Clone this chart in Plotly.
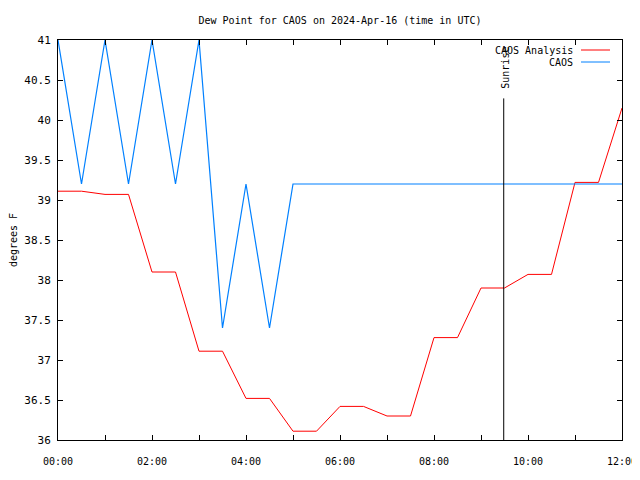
import plotly.graph_objects as go

# ---- data ----
times = ["00:00", "00:30", "01:00", "01:30", "02:00", "02:30", "03:00", "03:30",
         "04:00", "04:30", "05:00", "05:30", "06:00", "06:30", "07:00", "07:30",
         "08:00", "08:30", "09:00", "09:30", "10:00", "10:30", "11:00", "11:30", "12:00"]
analysis = [39.11, 39.11, 39.07, 39.07, 38.10, 38.10, 37.11, 37.11,
            36.52, 36.52, 36.11, 36.11, 36.42, 36.42, 36.30, 36.30,
            37.28, 37.28, 37.90, 37.90, 38.07, 38.07, 39.22, 39.22, 40.15]
obs = [41.0, 39.2, 41.0, 39.2, 41.0, 39.2, 41.0, 37.4,
       39.2, 37.4, 39.2, 39.2, 39.2, 39.2, 39.2, 39.2,
       39.2, 39.2, 39.2, 39.2, 39.2, 39.2, 39.2, 39.2, 39.2]
series_names = ["CAOS Analysis", "CAOS"]
series_colors = ["#ff0000", "#0080ff"]
sunrise_time = "09:29"
date = "2024-04-16"

xs = [f"{date} {t}" for t in times]
FONT = "DejaVu Sans Mono"

# page is offset by the browser's 8px body margin
W, H = 632, 464
L, T, R, B = 50, 32, 18, 32
PW, PH = W - L - R, H - T - B

fig = go.Figure()
fig.add_trace(go.Scatter(x=xs, y=analysis, mode="lines", name=series_names[0],
                         line=dict(color=series_colors[0], width=1)))
fig.add_trace(go.Scatter(x=xs, y=obs, mode="lines", name=series_names[1],
                         line=dict(color=series_colors[1], width=1.2)))

# sunrise line and label
fig.add_shape(type="line", xref="x", yref="y",
              x0=f"{date} {sunrise_time}", x1=f"{date} {sunrise_time}",
              y0=36, y1=40.27, line=dict(color="black", width=1))
fig.add_annotation(x=f"{date} {sunrise_time}", y=40.35, xref="x", yref="y",
                   text="Sunrise", textangle=-90, showarrow=False,
                   xanchor="center", yanchor="bottom", xshift=1, yshift=1,
                   font=dict(family=FONT, size=10, color="black"))

# manual legend (gnuplot style: text right, sample line after it)
for i, (name, col) in enumerate(zip(series_names, series_colors)):
    ypx = 10 + 12 * i   # px below plot top
    yp = 1 - ypx / PH
    fig.add_annotation(x=(575 - 58) / PW, y=yp, xref="paper", yref="paper",
                       text=name, showarrow=False, xanchor="right", yanchor="middle",
                       font=dict(family=FONT, size=10, color="black"))
    fig.add_shape(type="line", xref="paper", yref="paper",
                  x0=(581 - 58) / PW, x1=(610 - 58) / PW, y0=yp, y1=yp,
                  line=dict(color=col, width=1))

fig.update_layout(
    width=W, height=H,
    margin=dict(l=L, r=R, t=T, b=B, autoexpand=False),
    paper_bgcolor="white", plot_bgcolor="white",
    showlegend=False,
    font=dict(family=FONT, size=10, color="black"),
    title=dict(text="Dew Point for CAOS on 2024-Apr-16 (time in UTC)",
               x=332 / W, xanchor="center", y=1 - 12 / H, yanchor="middle",
               font=dict(family=FONT, size=10, color="black")),
)
fig.update_xaxes(
    type="date", range=[f"{date} 00:00", f"{date} 12:00"],
    dtick=7200000, tick0=f"{date} 00:00", tickformat="%H:%M",
    ticks="inside", ticklen=5, tickcolor="black",
    minor=dict(dtick=3600000, ticks="inside", ticklen=5, tickcolor="black"),
    showline=True, linecolor="black", linewidth=1, mirror="allticks",
    showgrid=False, zeroline=False, ticklabelstandoff=12, automargin=False,
    ticklabeloverflow="allow",
    tickfont=dict(family=FONT, size=10, color="black"),
)
fig.update_yaxes(
    range=[36, 41], dtick=0.5, tick0=36,
    ticks="inside", ticklen=5, tickcolor="black",
    showline=True, linecolor="black", linewidth=1, mirror="allticks",
    showgrid=False, zeroline=False, ticklabelstandoff=4, automargin=False,
    title=dict(text="degrees F", font=dict(family=FONT, size=10, color="black"), standoff=8),
    tickfont=dict(family=FONT, size=11, color="black"),
)

fig.write_html("out.html")
